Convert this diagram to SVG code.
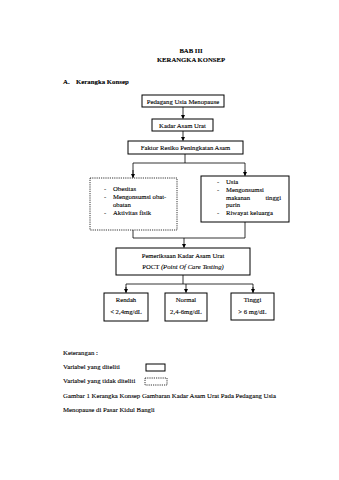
<svg xmlns="http://www.w3.org/2000/svg" width="339" height="480" viewBox="0 0 339 480">
<defs>
<marker id="ad" markerWidth="4" markerHeight="4" refX="3.5" refY="2" orient="auto" markerUnits="userSpaceOnUse" viewBox="0 0 4 4">
<path d="M0,0 L4,2 L0,4 Z" fill="#000"/>
</marker>
</defs>
<style>
text{font-family:"Liberation Serif","Times New Roman",serif;font-size:6.7px;fill:#000;stroke:#000;stroke-width:0.1}
.t{font-size:6.8px}
.b{font-weight:bold}
.c{text-anchor:middle}
.box{fill:#fff;stroke:#000;stroke-width:1}
.dash{fill:#fff;stroke:#000;stroke-width:0.8;stroke-dasharray:1.2 1}
.ln{fill:none;stroke:#000;stroke-width:0.8}
</style>
<rect width="339" height="480" fill="#fff"/>
<text class="b c" x="191" y="53">BAB III</text>
<text class="b c" x="191" y="62">KERANGKA KONSEP</text>
<text class="b t" x="63" y="84">A.</text>
<text class="b t" x="76" y="84">Kerangka Konsep</text>

<g id="connectors">
<line class="ln" x1="183" y1="107" x2="183" y2="118.5" marker-end="url(#ad)"/>
<line class="ln" x1="183" y1="131" x2="183" y2="140.5" marker-end="url(#ad)"/>
<polyline class="ln" points="133,177.5 133,163 245,163 245,175.5"/>
<line class="ln" x1="185" y1="154" x2="185" y2="163"/>
<line class="ln" x1="133" y1="170" x2="133" y2="177.5" marker-end="url(#ad)"/>
<line class="ln" x1="245" y1="170" x2="245" y2="175.5" marker-end="url(#ad)"/>
<polyline class="ln" points="133,230 133,238 245,238 245,222"/>
<line class="ln" x1="184" y1="238" x2="184" y2="247.5" marker-end="url(#ad)"/>
<line class="ln" x1="183" y1="275" x2="183" y2="284"/>
<polyline class="ln" points="126,292.5 126,284 253,284 253,292.5"/>
<line class="ln" x1="126" y1="287" x2="126" y2="292.5" marker-end="url(#ad)"/>
<line class="ln" x1="186" y1="284" x2="186" y2="292.5" marker-end="url(#ad)"/>
<line class="ln" x1="253" y1="287" x2="253" y2="292.5" marker-end="url(#ad)"/>
</g>

<g id="n1"><rect class="box" x="142" y="95" width="82" height="12"/><text class="c" x="183" y="103.5">Pedagang Usia Menopause</text></g>
<g id="n2"><rect class="box" x="152" y="119" width="61" height="12"/><text class="c" x="182.5" y="127.5">Kadar Asam Urat</text></g>
<g id="n3"><rect class="box" x="128" y="141" width="115" height="13"/><text class="c" x="185.5" y="150">Faktor Resiko Peningkatan Asam</text></g>

<g id="n4"><rect class="dash" x="90" y="178" width="87" height="52"/>
<text x="104" y="191">-</text><text x="113" y="191">Obesitas</text>
<text x="104" y="199">-</text><text x="113" y="199">Mengonsumsi obat-</text>
<text x="113" y="206.5">obatan</text>
<text x="104" y="214.5">-</text><text x="113" y="214.5">Aktivitas fisik</text>
</g>
<g id="n5"><rect class="box" x="201" y="176" width="88" height="46"/>
<text x="217" y="184">-</text><text x="226" y="184">Usia</text>
<text x="217" y="192">-</text><text x="226" y="192">Mengonsumsi</text>
<text x="226" y="199.5">makanan</text><text x="281" y="199.5" text-anchor="end">tinggi</text>
<text x="226" y="207">purin</text>
<text x="217" y="214.5">-</text><text x="226" y="214.5">Riwayat keluarga</text>
</g>

<g id="n6"><rect class="box" x="116" y="248" width="134" height="27"/>
<text class="c" x="183" y="257.5">Pemeriksaan Kadar Asam Urat</text>
<text class="c" x="183" y="269">POCT <tspan font-style="italic">(Point Of Care Testing)</tspan></text>
</g>
<g id="n7"><rect class="box" x="104" y="293" width="44" height="28"/><text class="c" x="126" y="301.5">Rendah</text><text class="c" x="126" y="314">&lt; 2,4mg/dL</text></g>
<g id="n8"><rect class="box" x="165" y="293" width="42" height="28"/><text class="c" x="186" y="301.5">Normal</text><text class="c" x="186" y="314">2,4-6mg/dL</text></g>
<g id="n9"><rect class="box" x="231" y="293" width="43" height="27"/><text class="c" x="252.5" y="301.5">Tinggi</text><text class="c" x="252.5" y="314">&gt; 6 mg/dL</text></g>

<g id="legend">
<text class="t" x="63" y="355">Keterangan :</text>
<text class="t" x="63" y="369">Variabel yang diteliti</text>
<rect class="box" x="146" y="364" width="19" height="7" stroke-width="0.8"/>
<text class="t" x="63" y="383">Variabel yang tidak diteliti</text>
<rect class="dash" x="145" y="378" width="22" height="7"/>
<text class="t" x="63" y="398" textLength="213" lengthAdjust="spacing">Gambar  1 Kerangka Konsep Gambaran Kadar Asam Urat Pada Pedagang Usia</text>
<text class="t" x="63" y="412">Menopause di Pasar Kidul Bangli</text>
</g>
</svg>
